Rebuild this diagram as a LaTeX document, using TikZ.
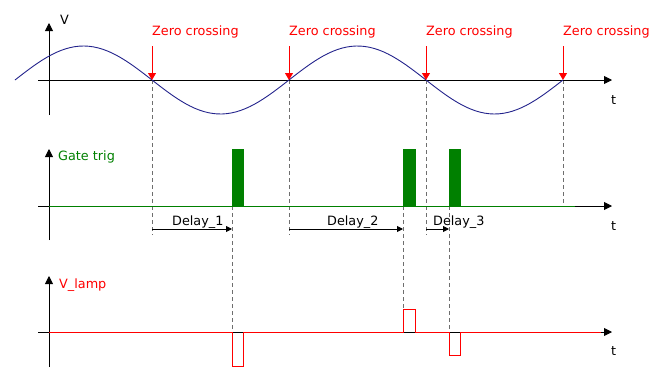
\documentclass[tikz,border=0pt]{standalone}
\usepackage{fontspec}
\setmainfont{DejaVu Sans}
\usetikzlibrary{arrows.meta}
\pgfdeclarelayer{background}
\pgfsetlayers{background,main}
\definecolor{sinecol}{RGB}{35,35,140}
\definecolor{gatecol}{RGB}{0,128,0}
\definecolor{guidecol}{RGB}{110,110,110}

\tikzset{
  axis/.style={line width=0.9pt,-{Triangle[length=8pt,width=8pt]}},
  guide/.style={draw=guidecol,line width=0.7pt,dash pattern=on 4pt off 3pt},
  txt/.style={font=\fontsize{12.8}{15}\selectfont,inner sep=0pt,anchor=base west},
  zarrow/.style={red,line width=0.9pt,-{Triangle[length=7pt,width=8pt]}},
  delay/.style={line width=0.9pt,-{Triangle[length=6pt,width=6pt]}},
}

\begin{document}
\begin{tikzpicture}[x=1pt,y=-1pt]
\useasboundingbox (0,0) rectangle (664,383);
%crossings and pulse times
\foreach \i/\x in {1/152,2/289,3/426,4/563}{
  \coordinate (z\i) at (\x,80);
  \coordinate (zt\i) at (\x,46);
}
\coordinate (g1) at (232,206);
\coordinate (g2) at (403,206);
\coordinate (g3) at (449,206);
\begin{pgfonlayer}{background}
\draw[guide] (z1) -- (152,235);
\draw[guide] (z2) -- (289,235);
\draw[guide] (z3) -- (426,235);
\draw[guide] (z4) -- (563,206);
\draw[guide] (g1) -- (232,332);
\draw[guide] (g2) -- (403,309);
\draw[guide] (g3) -- (449,332);
\end{pgfonlayer}
%V
\draw[axis] (49,115) -- (49,23);
\draw[axis] (38,80) -- (612,80);
\node[txt] (vlbl) at (60,24) {V};
\node[txt] (t1) at (611,104) {t};
\draw[sinecol,line width=0.9pt] plot[domain=15:563,samples=120] (\x,{80-34*sin((\x-15)/137*180)});
\foreach \i in {1,...,4}{
  \draw[zarrow] (zt\i) -- (z\i);
  \node[txt,red] (zc\i) at ([yshift=11pt]zt\i) {Zero crossing};
}
%Gate trig
\draw[axis] (49,240) -- (49,149);
\draw[axis] (38,206) -- (612,206);
\node[txt,gatecol] (glbl) at (58,160) {Gate trig};
\node[txt] (t2) at (611,230) {t};
\draw[gatecol,line width=0.9pt] (49,206) -- (575,206);
\fill[gatecol] (g1) rectangle (244,149);
\fill[gatecol] (g2) rectangle (416,149);
\fill[gatecol] (g3) rectangle (461,149);
\coordinate (d1) at (152,229);
\coordinate (d2) at (289,229);
\coordinate (d3) at (426,229);
\draw[delay] (d1) -- (232,229);
\draw[delay] (d2) -- (403,229);
\draw[delay] (d3) -- (449,229);
\node[txt] (dl1) at (172,225) {Delay\_1};
\node[txt] (dl2) at (327,225) {Delay\_2};
\node[txt] (dl3) at (433,225) {Delay\_3};
%V_lamp
\draw[axis] (49,367) -- (49,276);
\draw[axis] (38,332) -- (612,332);
\node[txt,red] (llbl) at (59,288) {V\_lamp};
\node[txt] (t3) at (611,355) {t};
\draw[red,line width=0.9pt] (49,332) -- (232,332) -- (232,366) -- (243,366) -- (243,332)
  -- (403,332) -- (403,309) -- (415,309) -- (415,332)
  -- (449,332) -- (449,355) -- (460,355) -- (460,332) -- (601,332);
\end{tikzpicture}
\end{document}
